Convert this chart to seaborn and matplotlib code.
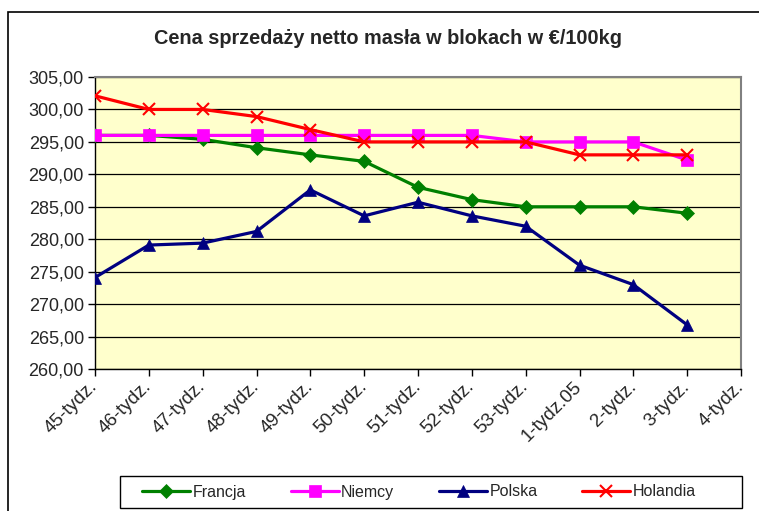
import pandas as pd
import seaborn as sns
import matplotlib.pyplot as plt
from matplotlib.patches import Rectangle
from matplotlib.ticker import FuncFormatter, MultipleLocator

weeks = ["45-tydz.", "46-tydz.", "47-tydz.", "48-tydz.", "49-tydz.", "50-tydz.", "51-tydz.",
         "52-tydz.", "53-tydz.", "1-tydz.05", "2-tydz.", "3-tydz.", "4-tydz."]
francja = [296.0, 296.0, 295.4, 294.1, 293.0, 292.0, 288.0, 286.1, 285.0, 285.0, 285.0, 284.0]
niemcy = [296.0, 296.0, 296.0, 296.0, 296.0, 296.0, 296.0, 296.0, 295.0, 295.0, 295.0, 292.2]
polska = [274.1, 279.1, 279.4, 281.2, 287.6, 283.6, 285.7, 283.6, 282.0, 276.0, 273.0, 266.8]
holandia = [302.1, 300.0, 300.0, 298.9, 296.9, 295.0, 295.0, 295.0, 295.0, 293.0, 293.0, 293.0]

series = {"Francja": francja, "Niemcy": niemcy, "Polska": polska, "Holandia": holandia}
colors = {"Francja": "#008000", "Niemcy": "#FF00FF", "Polska": "#000080", "Holandia": "#FF0000"}
markers = {"Francja": "D", "Niemcy": "s", "Polska": "^", "Holandia": "x"}
msizes = {"Francja": 7, "Niemcy": 9, "Polska": 9, "Holandia": 9}

sns.set_style("white")
plt.rcParams['font.family'] = ['Liberation Sans', 'DejaVu Sans']

fig = plt.figure(figsize=(7.59, 5.11), dpi=100)
ax = fig.add_axes([95 / 759, 1 - 369 / 511, (741 - 95) / 759, (369 - 77) / 511])

# outer chart frame
fig.patches.append(Rectangle((8 / 759, -0.1), 1.2, 1 - 12 / 511 + 0.1, transform=fig.transFigure,
                             fill=False, edgecolor="black", linewidth=1.2))
# legend frame
fig.patches.append(Rectangle((120 / 759, 1 - 508 / 511), 622 / 759, 32 / 511,
                             transform=fig.transFigure, fill=True, facecolor="white",
                             edgecolor="black", linewidth=1))

ax.set_facecolor("#FFFFCC")
for name, vals in series.items():
    df = pd.DataFrame({"x": range(len(vals)), "y": vals})
    mk = markers[name]
    sns.lineplot(data=df, x="x", y="y", ax=ax, color=colors[name], linewidth=2.3,
                 marker=mk, markersize=msizes[name], markeredgecolor=colors[name],
                 markeredgewidth=1.5 if mk == "x" else 0.5, label=name, zorder=3)

ax.set_xlim(0, len(weeks) - 1)
ax.set_ylim(260, 305)
ax.yaxis.set_major_locator(MultipleLocator(5))
ax.yaxis.set_major_formatter(FuncFormatter(lambda v, p: f"{v:.2f}".replace(".", ",")))
ax.set_xticks(range(len(weeks)))
ax.set_xticklabels(weeks, rotation=45, ha="right", va="center", rotation_mode="anchor")
ax.tick_params(axis="both", direction="out", length=5, width=1, color="black",
               labelsize=13, bottom=True, left=True)
ax.tick_params(axis="x", pad=6, labelsize=13.5)
ax.tick_params(axis="y", pad=3)
ax.grid(axis="y", color="black", linewidth=0.9)
ax.set_axisbelow(True)
for side in ["top", "right"]:
    ax.spines[side].set_color("#808080")
    ax.spines[side].set_linewidth(1.5)
for side in ["left", "bottom"]:
    ax.spines[side].set_color("black")
    ax.spines[side].set_linewidth(1)
ax.set_xlabel("")
ax.set_ylabel("")

ax.get_legend().remove()
handles, labels = ax.get_legend_handles_labels()
leg = fig.legend(handles, labels, loc="center", bbox_to_anchor=(419 / 759, 1 - 492 / 511),
                 ncol=4, frameon=False, fontsize=11.5,
                 handlelength=3.0, columnspacing=2.8, handletextpad=0.15,
                 borderpad=0.3)

fig.text(388 / 759, 1 - 38 / 511, "Cena sprzedaży netto masła w blokach w €/100kg",
         ha="center", va="center", fontsize=14.3, fontweight="bold")

fig.savefig("out.png", dpi=100)
